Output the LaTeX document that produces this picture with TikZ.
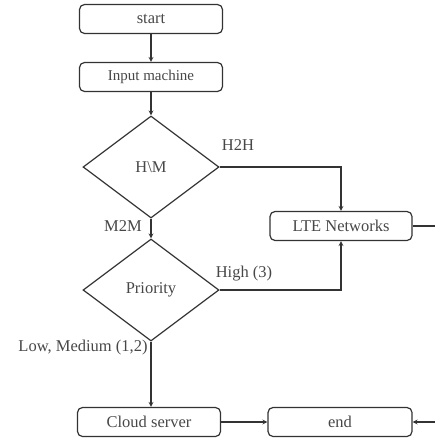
\documentclass[tikz,border=0pt]{standalone}
\usepackage{fontspec}
\setmainfont{Liberation Serif}
\usepackage{tikz}
\usetikzlibrary{shapes, arrows, positioning, calc}
\definecolor{linegray}{rgb}{0.2,0.2,0.2}
\definecolor{textgray}{rgb}{0.28,0.28,0.28}

\tikzset{
  box/.style={draw=linegray, line width=1.2pt, rounded corners=5pt, minimum width=143pt, minimum height=29pt, text=textgray, font=\fontsize{16.5}{19}\selectfont},
  decision/.style={draw=linegray, line width=1.2pt, diamond, shape aspect=1.33, minimum width=136pt, minimum height=102pt, inner sep=0pt, text=textgray, font=\fontsize{16.5}{19}\selectfont},
  lbl/.style={text=textgray, font=\fontsize{16.5}{19}\selectfont, inner sep=0pt},
  flow/.style={draw=linegray, line width=1.2pt, -stealth}
}

\begin{document}
\begin{tikzpicture}[x=1pt, y=1pt]
    \clip (0,0) rectangle (435,-439);

    \node[box] (start) at (151,-19) {start};
    \node[box, font=\fontsize{15}{18}\selectfont] (input) at (151,-77) {Input machine};
    \node[decision] (hm) at (151,-167) {H\textbackslash M};
    \node[decision] (prio) at (151,-290) {Priority};
    \node[box, minimum width=142pt] (lte) at (341,-226) {LTE Networks};
    \node[box] (cloud) at (149,-422) {Cloud server};
    \node[box, minimum width=144pt] (end) at (340,-422) {end};

    % the loop back to end runs past the right edge
    \coordinate (outA) at (460,-226);
    \coordinate (outB) at (460,-422);

    \draw[flow] (start) -- (input);
    \draw[flow] (input) -- (hm);
    \draw[flow] (hm.east) -| (lte.north);
    \draw[flow] (hm.south) -- (prio.north);
    \draw[flow] (prio.east) -| (lte.south);
    \draw[flow] (prio.south) -- (prio.south |- cloud.north);
    \draw[flow] (cloud) -- (end);
    \draw[flow] (lte.east) -- (outA) -- (outB) -- (end.east);

    \node[lbl] (h2h) at (238,-145) {H2H};
    \node[lbl] (m2m) at (123,-226) {M2M};
    \node[lbl] (high) at (244,-274) {High (3)};
    \node[lbl] (low) at (83,-348) {Low, Medium (1,2)};
\end{tikzpicture}
\end{document}
